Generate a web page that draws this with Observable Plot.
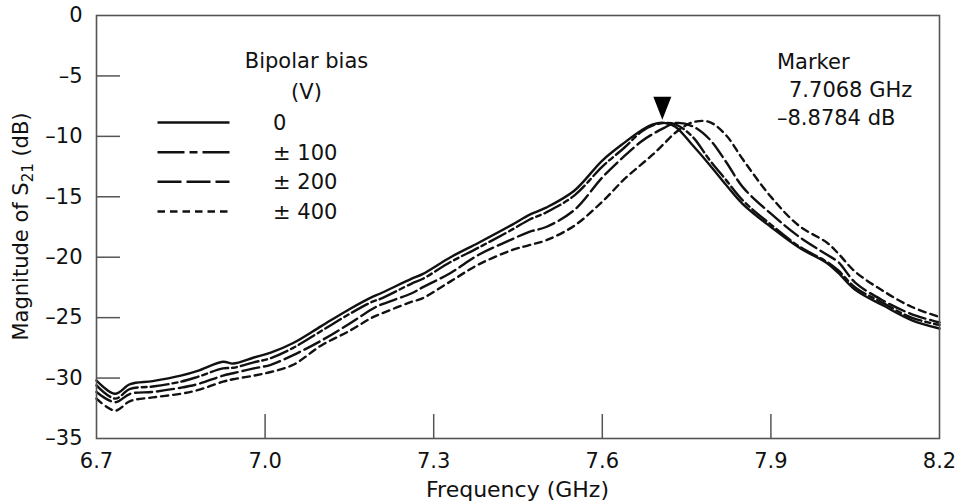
<!DOCTYPE html>
<html>
<head>
<meta charset="utf-8">
<script src="https://cdn.jsdelivr.net/npm/d3@7"></script>
<script src="https://cdn.jsdelivr.net/npm/@observablehq/plot@0.6"></script>
<style>
  html, body { margin: 0; padding: 0; background: #fff; }
  #chart { width: 956px; height: 503px; }
</style>
</head>
<body>
<div id="chart"></div>
<script>
// ---------- data ----------
const freqs = [6.70, 6.733, 6.76, 6.80, 6.85, 6.88, 6.925, 6.943, 6.98, 7.01, 7.05, 7.10, 7.15, 7.19, 7.205, 7.26, 7.28, 7.33, 7.38, 7.44, 7.47, 7.50, 7.55, 7.60, 7.64, 7.67, 7.69, 7.71, 7.73, 7.76, 7.79, 7.82, 7.85, 7.90, 7.95, 8.00, 8.02, 8.05, 8.10, 8.15, 8.20];
const s21_0   = [-30.2, -31.3, -30.5, -30.25, -29.8, -29.4, -28.65, -28.8, -28.3, -27.9, -27.1, -25.7, -24.3, -23.3, -23.0, -21.8, -21.4, -20.0, -18.8, -17.3, -16.5, -15.9, -14.5, -12.0, -10.5, -9.5, -9.0, -8.88, -9.2, -10.7, -12.3, -14.0, -15.6, -17.5, -19.2, -20.5, -21.3, -22.7, -24.0, -25.2, -25.9];
const s21_100 = [-30.6, -31.7, -30.9, -30.7, -30.3, -29.9, -29.2, -29.15, -28.7, -28.35, -27.5, -26.1, -24.7, -23.7, -23.45, -22.2, -21.8, -20.4, -19.2, -17.7, -16.9, -16.3, -14.9, -12.5, -10.9, -9.6, -9.1, -8.9, -9.0, -10.0, -11.9, -13.6, -15.3, -17.3, -19.1, -20.4, -21.1, -22.5, -23.8, -25.0, -25.6];
const s21_200 = [-31.15, -32.0, -31.3, -31.15, -30.8, -30.5, -29.8, -29.6, -29.2, -28.9, -28.1, -26.9, -25.5, -24.3, -23.95, -23.0, -22.5, -21.3, -19.8, -18.5, -17.9, -17.5, -16.1, -13.4, -11.6, -10.4, -9.8, -9.3, -8.9, -9.15, -10.2, -12.1, -14.2, -16.4, -18.3, -19.8, -20.4, -22.1, -23.6, -24.7, -25.4];
const s21_400 = [-31.7, -32.7, -31.9, -31.6, -31.3, -31.0, -30.3, -30.1, -29.8, -29.5, -28.9, -27.3, -26.1, -25.0, -24.7, -23.7, -23.4, -22.0, -20.6, -19.4, -19.0, -18.6, -17.4, -15.4, -13.5, -12.3, -11.5, -10.6, -9.7, -8.85, -8.8, -9.9, -11.9, -15.0, -17.4, -18.8, -19.7, -21.2, -22.8, -24.1, -24.95];

const seriesNames = ["0", "\u00b1 100", "\u00b1 200", "\u00b1 400"];
const seriesValues = [s21_0, s21_100, s21_200, s21_400];

const xTicks = [6.7, 7.0, 7.3, 7.6, 7.9, 8.2];
const xTickLabels = ["6.7", "7.0", "7.3", "7.6", "7.9", "8.2"];
const yTicks = [0, -5, -10, -15, -20, -25, -30, -35];
const yTickLabels = ["0", "\u20135", "\u201310", "\u201315", "\u201320", "\u201325", "\u201330", "\u201335"];

const markerFreq = [7.7068];
const markerDb = [-8.8784];
const markerLines = ["Marker", "7.7068 GHz", "\u20138.8784 dB"];

// ---------- styles ----------
const FONT = "'DejaVu Sans', 'Liberation Sans', Arial, sans-serif";
const INK = "#111";
const GREY = "#555";
const curveDash = [null, "18,4,5,4", "17,5", "7,5"];
const legendDash = [null, "27,5,8,5", "24,5", "7.5,5"];

const W = 956, H = 503;
const mL = 96, mR = 17, mT = 15, mB = 65;
const innerW = W - mL - mR, innerH = H - mT - mB;

const table = [];
seriesValues.forEach((vals, si) => {
  vals.forEach((v, i) => table.push({f: freqs[i], db: v, s: seriesNames[si]}));
});
const markers = markerFreq.map((f, i) => ({f, db: markerDb[i]}));

const downTriangle = {
  draw(ctx) {
    ctx.moveTo(-9, -26);
    ctx.lineTo(9, -26);
    ctx.lineTo(0, -3);
    ctx.closePath();
  }
};

const lineMarks = seriesNames.map((name, si) =>
  Plot.line(table.filter(d => d.s === name), {
    x: "f", y: "db",
    stroke: INK, strokeWidth: 2.4,
    strokeDasharray: curveDash[si] ?? undefined,
    curve: "catmull-rom"
  })
);

const svg = Plot.plot({
  width: W, height: H,
  marginLeft: mL, marginRight: mR, marginTop: mT, marginBottom: mB,
  style: {fontFamily: FONT, fontSize: "21px", color: "#111", background: "#fff"},
  x: {domain: [6.7, 8.2], label: null},
  y: {domain: [-35, 0], label: null},
  marks: [
    Plot.axisX(xTicks, {tickSize: 0, tickPadding: 15, tickFormat: (d) => xTickLabels[xTicks.indexOf(d)], fill: "#111"}),
    Plot.axisY(yTicks, {tickSize: 0, tickPadding: 14, tickFormat: (d) => yTickLabels[yTicks.indexOf(d)], fill: "#111"}),
    Plot.tickY(yTicks.filter(v => v !== 0 && v !== -35), {y: d => d, insetRight: innerW - 24, stroke: GREY, strokeWidth: 1.5}),
    Plot.tickX(xTicks.filter(v => v !== 6.7 && v !== 8.2), {x: d => d, insetTop: innerH - 24, stroke: GREY, strokeWidth: 1.5}),
    ...lineMarks,
    Plot.frame({stroke: GREY, strokeWidth: 1.6}),
    Plot.dot(markers, {x: "f", y: "db", symbol: downTriangle, fill: "#000", stroke: null})
  ]
});

const root = d3.select(svg);

// y-axis title with subscript
const yt = root.append("text")
  .attr("transform", `translate(21,${mT + innerH / 2}) rotate(-90)`)
  .attr("text-anchor", "middle")
  .attr("dy", "0.35em")
  .attr("font-family", FONT)
  .attr("font-size", 21)
  .attr("fill", "#111");
yt.append("tspan").text("Magnitude of S");
yt.append("tspan").attr("font-size", 15).attr("dy", 5).text("21");
yt.append("tspan").attr("dy", -5).text(" (dB)");

// x-axis title
root.append("text")
  .attr("x", mL + innerW / 2).attr("y", 497)
  .attr("text-anchor", "middle")
  .attr("font-family", FONT).attr("font-size", 22).attr("fill", "#111")
  .text("Frequency (GHz)");

// legend
const lg = root.append("g").attr("font-family", FONT).attr("font-size", 21).attr("fill", "#111").attr("text-anchor", "start");
lg.append("text").attr("x", 306.5).attr("y", 60).attr("dy", "0.36em").attr("text-anchor", "middle").text("Bipolar bias");
lg.append("text").attr("x", 306.5).attr("y", 91.5).attr("dy", "0.36em").attr("text-anchor", "middle").text("(V)");
const rowsY = [122.5, 152.2, 181.8, 211.5];
seriesNames.forEach((name, i) => {
  const ln = lg.append("line")
    .attr("x1", 157.5).attr("x2", 229.5)
    .attr("y1", rowsY[i]).attr("y2", rowsY[i])
    .attr("stroke", INK).attr("stroke-width", 2.6);
  if (legendDash[i]) ln.attr("stroke-dasharray", legendDash[i]);
  lg.append("text").attr("x", 273).attr("y", rowsY[i]).attr("dy", "0.36em").attr("text-anchor", "start").text(name);
});

// marker readout
const mk = root.append("g").attr("font-family", FONT).attr("font-size", 21).attr("fill", "#111").attr("text-anchor", "start");
const mkX = [777, 789, 777];
const mkY = [61, 89, 117.5];
markerLines.forEach((t, i) => {
  mk.append("text").attr("x", mkX[i]).attr("y", mkY[i]).attr("dy", "0.36em").attr("text-anchor", "start").text(t);
});

document.getElementById("chart").appendChild(svg);
</script>
</body>
</html>
